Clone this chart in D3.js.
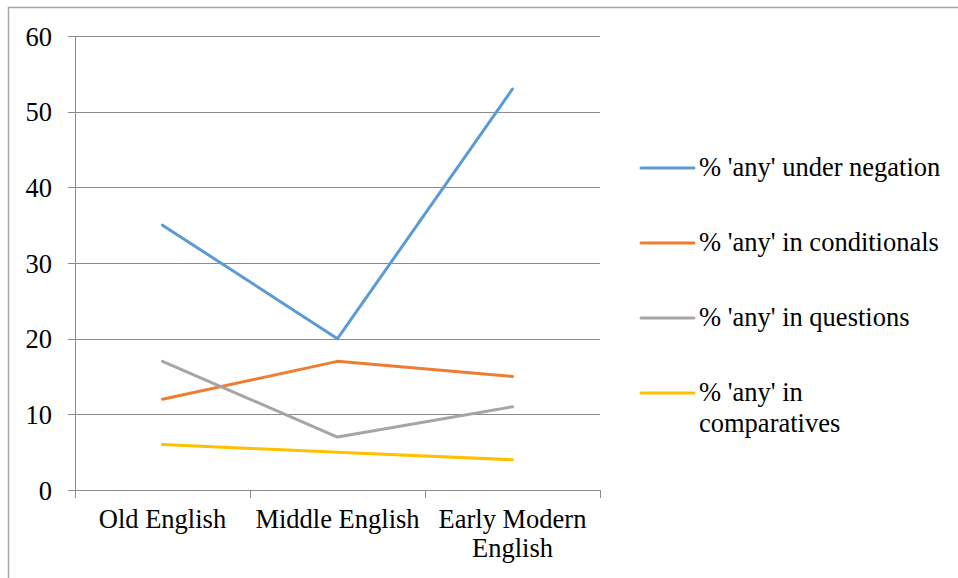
<!DOCTYPE html>
<html>
<head>
<meta charset="utf-8">
<script src="https://cdn.jsdelivr.net/npm/d3@7"></script>
</head>
<body style="margin:0; background:#fff">
<div id="chart"></div>
<script>
// Datos del gráfico
const periods = [["Old English"], ["Middle English"], ["Early Modern", "English"]];
const seriesNames = [
  ["% 'any' under negation"],
  ["% 'any' in conditionals"],
  ["% 'any' in questions"],
  ["% 'any' in", "comparatives"]
];
const negation = [35, 20, 53];
const conditionals = [12, 17, 15];
const questions = [17, 7, 11];
const comparatives = [6, 5, 4];
const yTicks = [0, 10, 20, 30, 40, 50, 60];
const colors = ["#5B9BD5", "#ED7D31", "#A5A5A5", "#FFC000"];

const series = [negation, conditionals, questions, comparatives].map((v, i) => ({
  name: seriesNames[i], values: v, color: colors[i]
}));

const W = 958, H = 578;
const margin = { top: 36, left: 75 };
const plotW = 525, plotH = 454;
const FONT = "Liberation Serif";
const FS = 26.5;

const svg = d3.select("#chart").append("svg")
  .attr("width", W).attr("height", H)
  .attr("font-family", FONT);

// Borde exterior
svg.append("path")
  .attr("d", `M8.5,${H} V7.5 H${W}`)
  .attr("fill", "none")
  .attr("stroke", "#a6a6a6")
  .attr("stroke-width", 1.5);

const g = svg.append("g").attr("transform", `translate(${margin.left},${margin.top})`);

const x = d3.scaleBand().domain(d3.range(periods.length)).range([0, plotW]);
const y = d3.scaleLinear().domain([0, 60]).range([plotH, 0]);

// Líneas de cuadrícula
g.append("g")
  .selectAll("line")
  .data(yTicks)
  .join("line")
  .attr("x1", -7).attr("x2", plotW)
  .attr("y1", d => Math.round(y(d)) + 0.5).attr("y2", d => Math.round(y(d)) + 0.5)
  .attr("stroke", "#8c8c8c").attr("stroke-width", 1);

// Eje Y
const yAxis = g.append("g")
  .call(d3.axisLeft(y).tickValues(yTicks).tickSize(0).tickPadding(0));
yAxis.attr("font-family", FONT).attr("font-size", FS);
yAxis.select(".domain").remove();
yAxis.selectAll("text")
  .attr("x", -23)
  .attr("dy", "0.34em")
  .attr("fill", "#000");

// Eje X
g.append("line")
  .attr("x1", 0.5).attr("x2", 0.5)
  .attr("y1", 0).attr("y2", plotH)
  .attr("stroke", "#8c8c8c");

const xTicks = d3.range(periods.length + 1).map(i => i * x.step());
g.append("g")
  .selectAll("line")
  .data(xTicks)
  .join("line")
  .attr("x1", d => Math.round(d) + 0.5).attr("x2", d => Math.round(d) + 0.5)
  .attr("y1", plotH).attr("y2", plotH + 8)
  .attr("stroke", "#8c8c8c");

const xLabels = g.append("g")
  .selectAll("text")
  .data(periods)
  .join("text")
  .attr("x", (d, i) => x(i) + x.bandwidth() / 2)
  .attr("y", plotH + 38)
  .attr("text-anchor", "middle")
  .attr("font-size", FS);
xLabels.selectAll("tspan")
  .data(d => d)
  .join("tspan")
  .attr("x", function () { return d3.select(this.parentNode).attr("x"); })
  .attr("dy", (d, i) => i === 0 ? 0 : 29)
  .text(d => d);

// Líneas de las series
const line = d3.line()
  .x((d, i) => x(i) + x.bandwidth() / 2)
  .y(d => y(d));

g.selectAll(".serie")
  .data(series)
  .join("path")
  .attr("class", "serie")
  .attr("d", d => line(d.values))
  .attr("fill", "none")
  .attr("stroke", d => d.color)
  .attr("stroke-width", 3)
  .attr("stroke-linejoin", "round")
  .attr("stroke-linecap", "round");

// Leyenda
const legend = svg.append("g")
  .selectAll("g")
  .data(series)
  .join("g")
  .attr("transform", (d, i) => `translate(641,${168 + i * 75})`);

legend.append("line")
  .attr("x1", 0).attr("x2", 53)
  .attr("stroke", d => d.color)
  .attr("stroke-width", 3)
  .attr("stroke-linecap", "round");

const legText = legend.append("text")
  .attr("x", 58)
  .attr("y", 0)
  .attr("font-size", FS);
legText.selectAll("tspan")
  .data(d => d.name)
  .join("tspan")
  .attr("x", 58)
  .attr("dy", (d, i) => i === 0 ? "0.3em" : 31)
  .text(d => d);
</script>
</body>
</html>
